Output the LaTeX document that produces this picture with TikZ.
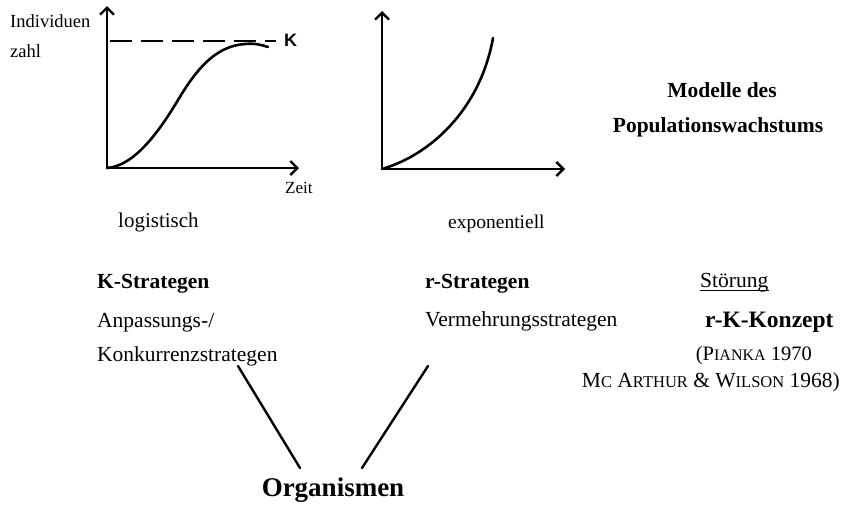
\documentclass[tikz,border=0pt]{standalone}
\usepackage{fontspec}
\setmainfont{Liberation Serif}
\setsansfont{Liberation Sans}
\usetikzlibrary{arrows.meta}
\newcommand{\bodyfs}{\fontsize{21.5}{25}\selectfont}
\newcommand{\scfs}{\fontsize{16.5}{20}\selectfont}
\tikzset{
  axis/.style={line width=2.6pt, -{Straight Barb[length=7pt,width=14pt,line width=2.4pt]}},
  curve/.style={line width=2.6pt, line cap=round},
  link/.style={line width=2.4pt, line cap=round},
  txt/.style={anchor=base west, inner sep=0pt, font=\bodyfs},
  btxt/.style={anchor=base west, inner sep=0pt, font=\bodyfs\bfseries},
}
\begin{document}
\begin{tikzpicture}[x=1pt,y=-1pt]
\useasboundingbox (0,0) rectangle (851,504);
% left chart
\coordinate (o1) at (107,168);
\coordinate (y1) at (107,6);
\coordinate (x1) at (299,168);
\draw[axis] (o1) -- (y1);
\draw[axis] (o1) -- (x1);
\coordinate (d0) at (110,41);
\coordinate (d1) at (276,41);
\draw[line width=2.2pt, dash pattern=on 22pt off 9pt] (d0) -- (d1);
\node[anchor=west, inner sep=0pt, font=\sffamily\bfseries\fontsize{18}{20}\selectfont] (K) at (284,40) {K};
\draw[curve] (o1) .. controls (135,166) and (160,130) .. (178,100) .. controls (196,70) and (215,46) .. (245,44) .. controls (255,43) and (262,45) .. (268,47);
\node[txt, font=\fontsize{18.5}{22}\selectfont] (ind) at (10,27) {Individuen};
\node[txt, font=\fontsize{18.5}{22}\selectfont] (zahl) at (10,57) {zahl};
\node[txt, font=\fontsize{17}{20}\selectfont] (zeit) at (285,193) {Zeit};
\node[txt, font=\fontsize{21}{24}\selectfont] (log) at (118,227) {logistisch};
% right chart
\coordinate (o2) at (382,169);
\coordinate (y2) at (382,11);
\coordinate (x2) at (565,169);
\draw[axis] (o2) -- (y2);
\draw[axis] (o2) -- (x2);
\draw[curve] (o2) .. controls (430,155) and (480,110) .. (493,38);
\node[txt, font=\fontsize{19.5}{24}\selectfont] (exp) at (448,228) {exponentiell};
% title
\node[anchor=base, inner sep=0pt, font=\fontsize{21.5}{25}\selectfont\bfseries] (t1) at (722,97) {Modelle des};
\node[anchor=base, inner sep=0pt, font=\fontsize{21.5}{25}\selectfont\bfseries] (t2) at (718,132) {Populationswachstums};
% strategies
\node[btxt] (Ks) at (97,288) {K-Strategen};
\node[txt] (Ka) at (97,327) {Anpassungs-/};
\node[txt] (Kk) at (97,361) {Konkurrenzstrategen};
\node[btxt] (rs) at (425,288) {r-Strategen};
\node[txt] (rv) at (425,326) {Vermehrungsstrategen};
\node[txt] (st) at (700,287) {Störung};
\draw[line width=0.8pt] ([yshift=-3.5pt]st.base west) -- ([yshift=-3.5pt]st.base east);
\node[btxt, font=\fontsize{23.5}{27}\selectfont\bfseries] (rk) at (705,327) {r-K-Konzept};
\node[anchor=base east, inner sep=0pt, font=\fontsize{20.5}{24}\selectfont] (pi) at (812,360) {(P{\fontsize{16}{19}\selectfont IANKA} 1970};
\node[anchor=base east, inner sep=0pt, font=\bodyfs] (mc) at (840,387) {M{\scfs C} A{\scfs RTHUR} \& W{\scfs ILSON} 1968)};
% organisms
\node[anchor=base, inner sep=0pt, font=\fontsize{27}{31}\selectfont\bfseries] (org) at (333,496) {Organismen};
\coordinate (a1) at (238,366);
\coordinate (a2) at (300,468);
\coordinate (b1) at (428,366);
\coordinate (b2) at (362,468);
\draw[link] (a1) -- (a2);
\draw[link] (b1) -- (b2);
\end{tikzpicture}
\end{document}
